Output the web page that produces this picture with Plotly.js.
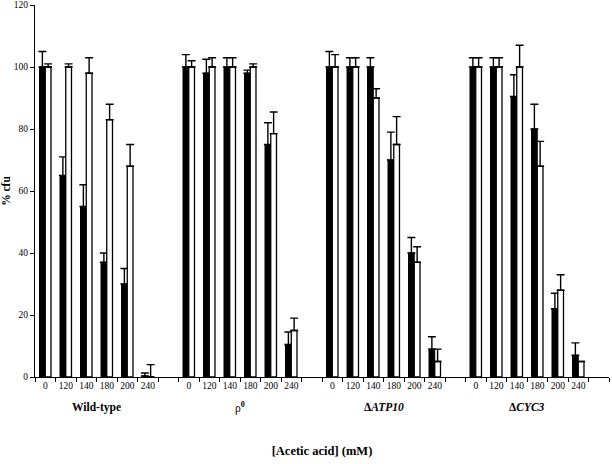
<!DOCTYPE html>
<html>
<head>
<meta charset="utf-8">
<script src="https://cdn.plot.ly/plotly-3.0.1.min.js"></script>
<style>
  body { margin: 0; background: #fff; }
  #myPlot { width: 612px; height: 464px; }
</style>
</head>
<body>
<div id="myPlot"></div>
<script>
// acetic acid concentrations (mM), same for each strain
var conc = ["0", "120", "140", "180", "200", "240"];
var strains = ["<b>Wild-type</b>", "ρ<sup><b>0</b></sup>", "<b>Δ<i>ATP10</i></b>", "<b>Δ<i>CYC3</i></b>"];

// % cfu, black bars and white bars, one row per strain
var blackVals = [
  [100, 65, 55, 37, 30, 0.3],
  [100, 98, 100, 98, 75, 10.5],
  [100, 100, 100, 70, 40, 9],
  [100, 100, 90.5, 80, 22, 7]
];
var blackErr = [
  [5, 6, 7, 3, 5, 1],
  [4, 4.5, 3, 1, 7, 4],
  [5, 3, 3, 9, 5, 4],
  [3, 3, 7, 8, 5, 4]
];
var whiteVals = [
  [100, 100, 98, 83, 68, 0],
  [100, 100, 100, 100, 78.5, 15],
  [100, 100, 90, 75, 37, 5],
  [100, 100, 100, 68, 28, 5]
];
var whiteErr = [
  [1, 1, 5, 5, 7, 4],
  [2, 3, 3, 1, 7, 4],
  [4, 3, 3, 9, 5, 4],
  [3, 3, 7, 8, 5, 0]
];

// each strain takes 6 slots plus one empty slot after it
var slotsPerGroup = conc.length + 1;
var xPos = [], tickText = [], bY = [], bE = [], wY = [], wE = [], zeros = [];
for (var g = 0; g < strains.length; g++) {
  for (var i = 0; i < conc.length; i++) {
    xPos.push(g * slotsPerGroup + i);
    tickText.push(conc[i]);
    bY.push(blackVals[g][i]);
    bE.push(blackErr[g][i]);
    wY.push(whiteVals[g][i]);
    wE.push(whiteErr[g][i]);
    zeros.push(0);
  }
}
var lastX = strains.length * slotsPerGroup - 1;

var serif = "Liberation Serif, Times New Roman, serif";

var data = [
  {
    type: "bar", x: xPos, y: bY,
    marker: {color: "#000", line: {color: "#000", width: 1}},
    error_y: {type: "data", symmetric: false, array: bE, arrayminus: zeros,
              color: "#000", thickness: 1.4, width: 4},
    hoverinfo: "y"
  },
  {
    type: "bar", x: xPos, y: wY,
    marker: {color: "#fff", line: {color: "#000", width: 1.3}},
    error_y: {type: "data", symmetric: false, array: wE, arrayminus: zeros,
              color: "#000", thickness: 1.4, width: 4},
    hoverinfo: "y"
  }
];

var annotations = [];
for (var g = 0; g < strains.length; g++) {
  annotations.push({
    x: g * slotsPerGroup + (conc.length - 1) / 2, xref: "x",
    y: 0, yref: "paper", yshift: -30, yanchor: "middle",
    text: strains[g], showarrow: false,
    font: {family: serif, size: 11.5, color: "#000"}
  });
}

var layout = {
  width: 612, height: 464,
  margin: {l: 35, r: 3, t: 5, b: 87},
  paper_bgcolor: "#fff", plot_bgcolor: "#fff",
  showlegend: false,
  barmode: "group", bargap: 0.44, bargroupgap: 0,
  font: {family: serif, color: "#000"},
  xaxis: {
    range: [-0.5, lastX + 0.5],
    tickmode: "array", tickvals: xPos, ticktext: tickText,
    ticks: "outside", ticklen: 0,
    tickfont: {family: serif, size: 9.5, color: "#000"},
    minor: {tickmode: "linear", tick0: -0.5, dtick: 1, ticks: "outside",
            ticklen: 4, tickcolor: "#000", tickwidth: 1, showgrid: false},
    showline: true, linecolor: "#000", linewidth: 1,
    showgrid: false, zeroline: false,
    title: {text: "<b>[Acetic acid] (mM)</b>", font: {family: serif, size: 12.5, color: "#000"}, standoff: 55}
  },
  yaxis: {
    range: [0, 120], dtick: 20,
    ticks: "outside", ticklen: 4, tickcolor: "#000",
    tickfont: {family: serif, size: 9.5, color: "#000"},
    showline: true, linecolor: "#000", linewidth: 1,
    showgrid: false, zeroline: false,
    title: {text: "<b>% cfu</b>", font: {family: serif, size: 11.5, color: "#000"}, standoff: 4}
  },
  annotations: annotations
};

Plotly.newPlot("myPlot", data, layout, {staticPlot: true});
</script>
</body>
</html>
